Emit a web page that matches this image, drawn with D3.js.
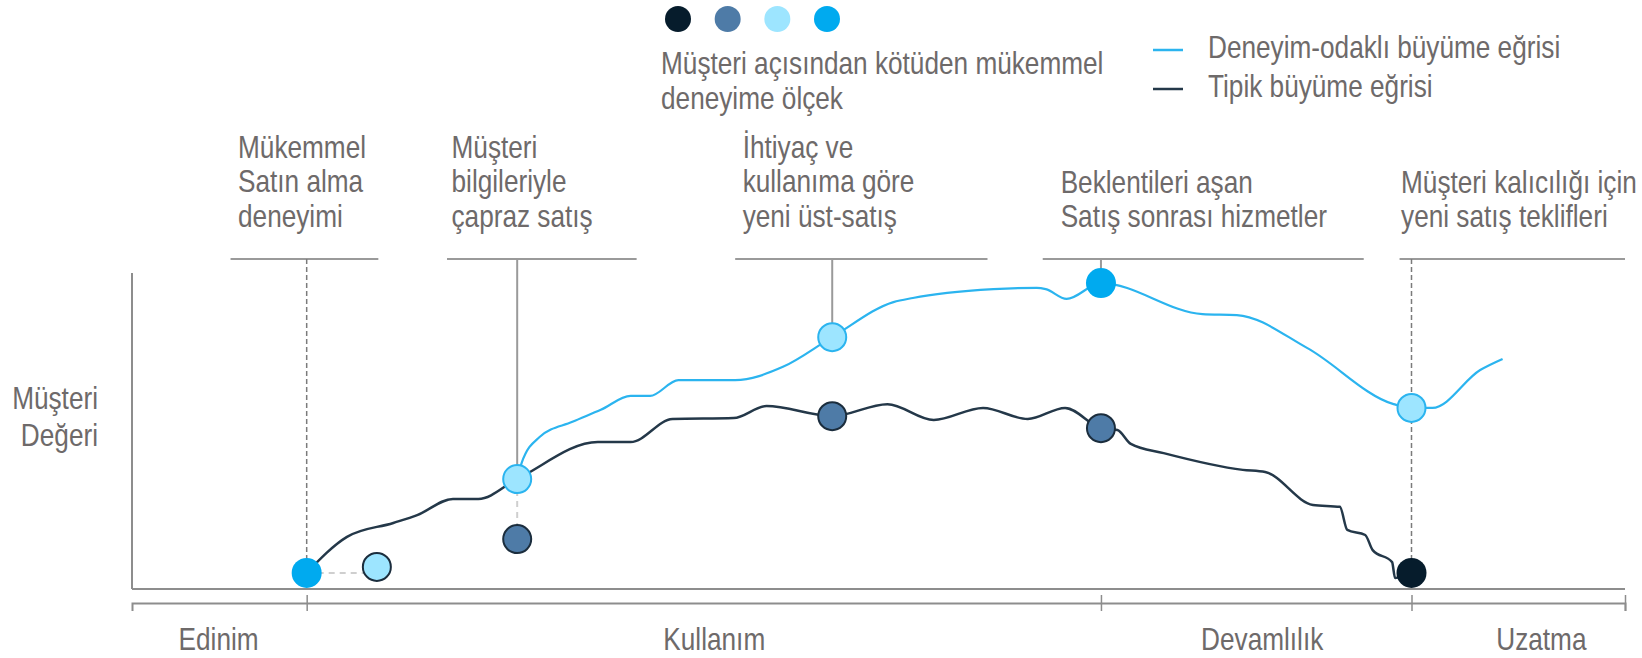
<!DOCTYPE html>
<html>
<head>
<meta charset="utf-8">
<script src="https://cdn.jsdelivr.net/npm/d3@7"></script>
<style>
  body { margin: 0; background: #fff; }
  svg text {
    font-family: "Liberation Sans", Arial, sans-serif;
    font-size: 31px;
    fill: #6e6a6a;
  }
</style>
</head>
<body>
<svg id="chart" width="1642" height="658"></svg>
<script>

// journey position runs 0..100 along the x axis, customer value 0..100 up the y axis
let stages = ['Edinim', 'Kullanım', 'Devamlılık', 'Uzatma'];
let stageLabelX = [5.8, 39.0, 75.7, 94.4];
let stageTicks = [11.7, 64.9, 85.7, 100];

// typical growth curve
let typicalX = [11.7, 14.4, 17.5, 19.1, 21.5, 23.2, 25.8, 31.2, 33.4, 36.2, 40.3, 42.5, 46.9, 50.6, 53.7, 57.0, 60.0, 62.5, 64.9, 66.0, 66.9, 69.1, 74.4, 75.9, 79.1, 80.9, 81.4, 82.6, 83.1, 84.4, 84.6, 85.7];
let typicalY = [5.1, 16.5, 20.9, 23.4, 28.5, 28.5, 34.8, 46.5, 46.5, 53.8, 54.1, 57.9, 54.7, 58.5, 53.5, 57.3, 53.8, 57.3, 50.9, 50.3, 45.9, 43.0, 37.7, 37.0, 26.6, 26.0, 18.7, 17.1, 12.3, 8.5, 3.5, 5.1];

// experience-led growth curve
let experienceX = [25.8, 26.1, 27.3, 29.5, 31.4, 33.4, 34.7, 36.6, 40.4, 43.6, 46.9, 51.0, 52.3, 54.6, 57.7, 60.6, 61.2, 62.6, 64.9, 71.7, 74.0, 78.7, 84.5, 85.7, 87.1, 90.3, 91.8];
let experienceY = [34.8, 39.9, 48.1, 52.9, 56.7, 61.1, 61.1, 66.1, 66.1, 70.3, 79.7, 90.8, 92.1, 93.7, 94.9, 95.3, 94.9, 91.8, 96.8, 87.0, 86.7, 76.3, 58.5, 57.3, 57.3, 69.3, 72.8];

// experience level markers: 0 = kötü ... 3 = mükemmel
let markerX = [11.7, 16.4, 25.8, 25.8, 46.9, 46.9, 64.9, 64.9, 85.7, 85.7];
let markerY = [5.1, 7.0, 34.8, 15.8, 79.7, 54.7, 96.8, 50.9, 57.3, 5.1];
let markerLevel = [3, 2, 2, 1, 2, 1, 3, 1, 2, 0];
let markerCurve = ['exp', 'alt', 'exp', 'typ', 'exp', 'typ', 'exp', 'typ', 'exp', 'typ'];

let levels = [0, 1, 2, 3];
let levelColors = ['#061c2c', '#4e7ba7', '#9de5ff', '#00aaef'];

// annotations
let noteX = [11.7, 25.8, 46.9, 64.9, 85.7];
let noteEnd = [5.1, 34.8, 79.7, 96.8, 5.1];
let noteDashed = [true, false, false, false, true];
let noteFrom = [6.6, 21.1, 40.4, 61.0, 84.9];
let noteTo = [16.5, 33.8, 57.3, 82.5, 100];
let noteTextX = [7.1, 21.4, 40.9, 62.2, 85.0];
let noteLines = [
  ['Mükemmel', 'Satın alma', 'deneyimi'],
  ['Müşteri', 'bilgileriyle', 'çapraz satış'],
  ['İhtiyaç ve', 'kullanıma göre', 'yeni üst-satış'],
  ['Beklentileri aşan', 'Satış sonrası hizmetler'],
  ['Müşteri kalıcılığı için', 'yeni satış teklifleri']
];

let scaleTitle = ['Müşteri açısından kötüden mükemmel', 'deneyime ölçek'];
let curveNames = ['Deneyim-odaklı büyüme eğrisi', 'Tipik büyüme eğrisi'];
let yTitle = ['Müşteri', 'Değeri'];


let x = d3.scaleLinear().domain([0, 100]).range([132, 1625]);
let y = d3.scaleLinear().domain([0, 100]).range([589, 273]);

let svg = d3.select('#chart');
let axisGrey = '#8d8d8d';
let noteTop = 259;
let narrow = 0.845;   // no condensed face installed, so squeeze the regular one

// multi-line text block, squeezed horizontally
function addText(parent, tx, ty, lines, anchor, lead) {
  let g = parent.append('g')
    .attr('transform', 'translate(' + tx + ',' + ty + ') scale(' + narrow + ',1)');
  g.append('text')
    .attr('text-anchor', anchor || 'start')
    .selectAll('tspan')
    .data(lines)
    .join('tspan')
    .attr('x', 0)
    .attr('dy', function(t, i) { return i === 0 ? 0 : lead; })
    .text(function(t) { return t; });
  return g;
}

// axes
svg.append('line')
  .attr('x1', x(0)).attr('x2', x(0))
  .attr('y1', y(100)).attr('y2', y(0))
  .attr('stroke', axisGrey).attr('stroke-width', 2);

svg.append('line')
  .attr('x1', x(0)).attr('x2', x(100))
  .attr('y1', y(0)).attr('y2', y(0))
  .attr('stroke', axisGrey).attr('stroke-width', 2);

let timeline = d3.axisBottom(x)
  .tickValues(stageTicks)
  .tickSizeOuter(0)
  .tickSize(8)
  .tickFormat('');

let tl = svg.append('g')
  .attr('transform', 'translate(0,' + (y(0) + 14) + ')')
  .call(timeline);
tl.select('.domain').attr('stroke', axisGrey).attr('stroke-width', 2);
tl.selectAll('.tick line')
  .attr('y1', -8).attr('y2', 8)
  .attr('stroke', axisGrey).attr('stroke-width', 1.5);

let labels = svg.append('g');
stages.forEach(function(s, i) {
  addText(labels, x(stageLabelX[i]), 650, [s], 'middle', 0);
});

addText(svg, 98, 409, yTitle, 'end', 37);

// annotations
let ng = svg.append('g');
noteX.forEach(function(v, i) {
  ng.append('line')
    .attr('x1', x(noteFrom[i])).attr('x2', x(noteTo[i]))
    .attr('y1', noteTop).attr('y2', noteTop)
    .attr('stroke', '#9a9a9a').attr('stroke-width', 2);

  ng.append('line')
    .attr('x1', x(v)).attr('x2', x(v))
    .attr('y1', noteTop).attr('y2', y(noteEnd[i]))
    .attr('stroke', noteDashed[i] ? '#7b7b7b' : '#9a9a9a')
    .attr('stroke-width', noteDashed[i] ? 1.5 : 2)
    .attr('stroke-dasharray', noteDashed[i] ? '5,3' : null);

  addText(ng, x(noteTextX[i]), 227 - (noteLines[i].length - 1) * 34.5, noteLines[i], 'start', 34.5);
});

// dashed connectors between paired markers
let pairs = [[0, 1], [2, 3]];
svg.append('g')
  .selectAll('line')
  .data(pairs)
  .join('line')
  .attr('x1', function(p) { return x(markerX[p[0]]); })
  .attr('y1', function(p) { return y(markerY[p[0]]); })
  .attr('x2', function(p) { return x(markerX[p[1]]); })
  .attr('y2', function(p) { return p[0] === 0 ? y(markerY[p[0]]) : y(markerY[p[1]]); })
  .attr('stroke', '#cfcfcf').attr('stroke-width', 2)
  .attr('stroke-dasharray', '6,5');

// curves
let line = d3.line()
  .x(function(d) { return x(d[0]); })
  .y(function(d) { return y(d[1]); })
  .curve(d3.curveMonotoneX);

svg.append('path')
  .datum(d3.zip(typicalX, typicalY))
  .attr('d', line)
  .attr('fill', 'none')
  .attr('stroke', '#243849')
  .attr('stroke-width', 2.5);

svg.append('path')
  .datum(d3.zip(experienceX, experienceY))
  .attr('d', line)
  .attr('fill', 'none')
  .attr('stroke', '#2bb4ef')
  .attr('stroke-width', 2.2);

// markers
let markers = markerX.map(function(v, i) {
  return { x: v, y: markerY[i], level: markerLevel[i], curve: markerCurve[i] };
});

svg.append('g')
  .selectAll('circle')
  .data(markers)
  .join('circle')
  .attr('cx', function(d) { return x(d.x); })
  .attr('cy', function(d) { return y(d.y); })
  .attr('r', function(d) { return (d.level === 3 || d.level === 0) ? 15 : 14; })
  .attr('fill', function(d) { return levelColors[d.level]; })
  .attr('stroke', function(d) {
    if (d.level === 3 || d.level === 0) return 'none';
    return d.curve === 'exp' ? '#2bb4ef' : '#1b2d3d';
  })
  .attr('stroke-width', 2);

// scale legend
let lx = d3.scalePoint().domain(levels).range([678, 827]);
svg.append('g')
  .selectAll('circle')
  .data(levels)
  .join('circle')
  .attr('cx', function(d) { return lx(d); })
  .attr('cy', 19)
  .attr('r', 13)
  .attr('fill', function(d) { return levelColors[d]; });

addText(svg, 661, 74, scaleTitle, 'start', 35);

// curve legend
let curveColors = ['#2bb4ef', '#243849'];
curveNames.forEach(function(name, i) {
  let ly = 50 + i * 39;
  svg.append('line')
    .attr('x1', 1153).attr('x2', 1183)
    .attr('y1', ly).attr('y2', ly)
    .attr('stroke', curveColors[i])
    .attr('stroke-width', 2.5);
  addText(svg, 1208, ly + 8, [name], 'start', 0);
});

</script>
</body>
</html>
